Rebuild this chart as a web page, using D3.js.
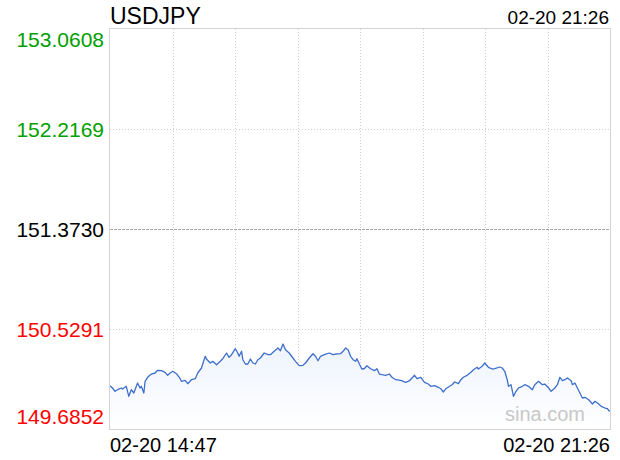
<!DOCTYPE html>
<html>
<head>
<meta charset="utf-8">
<script src="https://cdn.jsdelivr.net/npm/d3@7"></script>
<style>
html,body{margin:0;padding:0;background:#fff;}
svg{display:block;font-family:"Liberation Sans",Arial,Helvetica,sans-serif;}
</style>
</head>
<body>
<svg id="chart" width="620" height="460"></svg>
<script>
const symbol = "USDJPY";
const startLabel = "02-20 14:47";
const endLabel = "02-20 21:26";
const totalMinutes = 399;
const yTickValues = [153.0608, 152.2169, 151.3730, 150.5291, 149.6852];
const yTickLabels = ["153.0608", "152.2169", "151.3730", "150.5291", "149.6852"];
const prevClose = 151.3730;

const minuteOffsets = [
0,2,4,6,9,10,13,15,17,19,22,24,25,27,28,30,33,36,38,41,44,46,48,50,53,56,57,60,62,65,68,70,73,76,77,80,82,85,88,90,93,95,97,100,
102,103,105,106,108,110,112,114,116,118,120,123,126,128,131,134,136,138,140,143,146,148,151,154,156,159,162,164,166,168,171,175,178,180,184,186,188,190,192,194,196,197,199,201,203,
205,208,211,213,215,217,220,223,225,228,232,236,239,243,245,248,251,254,256,259,262,264,266,268,271,273,275,278,280,282,285,288,290,293,294,297,299,302,305,
307,311,313,315,317,318,320,322,324,326,329,331,334,337,339,342,345,347,350,352,355,357,359,361,363,365,368,369,371,373,375,377,379,382,385,387,389,392,395,397,398,399
];
const prices = [
150.0506,150.0312,150.0033,150.0168,150.0312,150.0227,150.0455,149.9611,150.0168,149.9890,150.0734,150.0312,150.0455,149.9890,150.0877,150.1215,150.1493,150.1578,150.1805,150.1772,150.1637,150.1383,150.1578,150.1721,150.1518,150.1097,150.0877,150.0961,150.0674,150.1012,150.1097,150.1578,150.1999,150.2987,150.2759,150.2421,150.2565,150.2278,150.2565,150.2784,150.3265,150.2902,150.3122,150.3628,
150.3265,150.2987,150.3409,150.2700,150.2337,150.2337,150.2759,150.2421,150.2337,150.2700,150.2843,150.3265,150.3122,150.3122,150.3409,150.3687,150.3459,150.4025,150.3544,150.3265,150.2843,150.2565,150.2194,150.2227,150.2421,150.2843,150.3206,150.2987,150.2616,150.2987,150.3122,150.3265,150.3122,150.3181,150.3206,150.3409,150.3687,150.3544,150.2987,150.2700,150.2565,150.2784,150.2337,150.1915,150.1957,
150.2194,150.1940,150.1772,150.1940,150.1493,150.1434,150.1383,150.1493,150.1215,150.1012,150.0961,150.0792,150.0928,150.1383,150.1097,150.1215,150.0792,150.0649,150.0455,150.0506,150.0371,150.0252,149.9974,150.0252,150.0455,150.0590,150.0818,150.0674,150.1012,150.1215,150.1383,150.1637,150.1856,150.2059,150.1915,150.2142,150.2421,150.2059,150.1915,
150.1940,150.2084,150.1999,150.1721,150.1012,150.0455,150.0590,149.9611,150.0033,150.0312,150.0455,150.0590,150.0455,150.0168,150.0590,150.0877,150.0590,150.0649,150.0312,150.0033,150.0312,150.0590,150.1215,150.0928,150.1012,150.1156,150.0928,150.0590,150.0734,150.0312,149.9890,149.9468,149.9527,149.9324,149.8961,149.9189,149.9046,149.8767,149.8624,149.8565,149.8396,149.8371
];

const data = minuteOffsets.map((m, i) => ({m: m, v: prices[i]}));

const mLeft = 110, mTop = 29, pw = 500, ph = 400;
const svg = d3.select("#chart");

const x = d3.scaleLinear().domain([0, totalMinutes]).range([mLeft, mLeft + pw]);
const y = d3.scaleLinear().domain([yTickValues[4], yTickValues[0]]).range([mTop + ph, mTop]);

const defs = svg.append("defs");
const grad = defs.append("linearGradient").attr("id", "areaGrad")
  .attr("x1", 0).attr("y1", 0).attr("x2", 0).attr("y2", 1);
grad.append("stop").attr("offset", "0%").attr("stop-color", "#eef3fd");
grad.append("stop").attr("offset", "100%").attr("stop-color", "#ffffff");

// vertical grid
const vCount = 8;
const vLines = d3.range(1, vCount).map(i => i * totalMinutes / vCount);
svg.append("g").selectAll("line").data(vLines).join("line")
  .attr("x1", d => Math.round(x(d)) + 0.5).attr("x2", d => Math.round(x(d)) + 0.5)
  .attr("y1", mTop).attr("y2", mTop + ph)
  .attr("stroke", "#d0d0d0").attr("stroke-width", 1).attr("stroke-dasharray", "1,2");

// horizontal grid
svg.append("g").selectAll("line").data(yTickValues.slice(1, 4)).join("line")
  .attr("x1", mLeft).attr("x2", mLeft + pw)
  .attr("y1", d => Math.round(y(d)) + 0.5).attr("y2", d => Math.round(y(d)) + 0.5)
  .attr("stroke", d => d === prevClose ? "#a8a8a8" : "#d0d0d0")
  .attr("stroke-width", 1)
  .attr("stroke-dasharray", d => d === prevClose ? "3,1" : "1,2");

// area
const area = d3.area().x(d => x(d.m)).y0(mTop + ph).y1(d => y(d.v));
svg.append("path").datum(data).attr("d", area).attr("fill", "url(#areaGrad)");

// watermark
svg.append("text").attr("x", 585).attr("y", 421).attr("text-anchor", "end")
  .attr("font-size", 20).attr("fill", "#c8c8c8").text("sina.com");

// line
const line = d3.line().x(d => x(d.m)).y(d => y(d.v));
svg.append("path").datum(data).attr("d", line)
  .attr("fill", "none").attr("stroke", "#3d6fcc").attr("stroke-width", 1.3)
  .attr("stroke-linejoin", "round");

// frame
svg.append("rect").attr("x", mLeft - 0.5).attr("y", mTop - 0.5)
  .attr("width", pw + 1).attr("height", ph + 1)
  .attr("fill", "none").attr("stroke", "#d4d4d4").attr("stroke-width", 1);

// y labels
const colors = ["#00a000", "#00a000", "#000000", "#ff0000", "#ff0000"];
const yOffsets = [17.5, 7.5, 7.5, 7.5, -5];
svg.append("g").selectAll("text").data(yTickValues).join("text")
  .attr("x", mLeft - 6)
  .attr("y", (d, i) => y(d) + yOffsets[i])
  .attr("text-anchor", "end")
  .attr("font-size", 21)
  .attr("fill", (d, i) => colors[i])
  .text((d, i) => yTickLabels[i]);

// title & time
svg.append("text").attr("x", mLeft).attr("y", 24).attr("font-size", 23).attr("fill", "#000").text(symbol);
svg.append("text").attr("x", 609).attr("y", 24).attr("text-anchor", "end").attr("font-size", 19).attr("fill", "#000").text(endLabel);

// bottom labels
svg.append("text").attr("x", mLeft).attr("y", 452).attr("font-size", 20).attr("fill", "#000").text(startLabel);
svg.append("text").attr("x", mLeft + pw).attr("y", 452).attr("text-anchor", "end").attr("font-size", 20).attr("fill", "#000").text(endLabel);
</script>
</body>
</html>
